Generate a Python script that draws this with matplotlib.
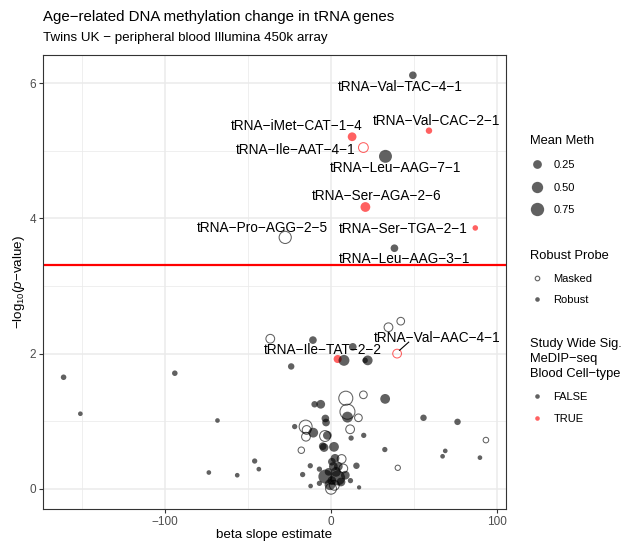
import matplotlib
matplotlib.use("Agg")
import matplotlib.pyplot as plt
from matplotlib.lines import Line2D
import numpy as np

plt.rcParams['font.family'] = ['Liberation Sans', 'DejaVu Sans']
plt.rcParams['mathtext.fontset'] = 'custom'
plt.rcParams['mathtext.rm'] = 'Liberation Sans'
plt.rcParams['mathtext.it'] = 'Liberation Sans:italic'

# beta slope, -log10 p, mean methylation, masked probe, study wide sig
slope = [49.3, 59.0, 12.7, 19.5, 32.8, 20.7, -27.6, 86.9, 38.2, 4.0, 39.8,
         -36.6, 34.6, 42.0, -10.9, 13.1, 7.8, 22.1, 20.5, -24.0, -161.1,
         -94.1, -151.0, -68.4, -73.6, -56.5, -46.0, -43.5, 55.7, 76.2, 93.3,
         68.8, 67.2, 89.7, 40.2, 32.4, 32.6, 19.5, 8.9, 9.9, 9.9,
         16.5, 11.5, 12.1, 19.7, -9.9, -6.2, -3.4, -3.0, -15.3, -14.7,
         -15.1, -10.7, -21.9, -3.6, -2.2, -5.0, -4.2, 1.8, -17.9, -12.5,
         -17.1, -7.0, -12.3, -7.0, 6.4, 15.3, 8.6, 11.7, 16.9, -3.4,
         4.0, -0.6, 0.0, 1.4, 4.4, 7.4, 2.4, 0.5, 3.0, 0.5,
         2.0, 6.0, -1.5]
logp = [6.12, 5.30, 5.21, 5.05, 4.92, 4.17, 3.72, 3.86, 3.56, 1.92, 2.00,
        2.22, 2.39, 2.48, 2.20, 2.10, 1.90, 1.90, 1.90, 1.81, 1.65,
        1.71, 1.11, 1.01, 0.24, 0.20, 0.41, 0.29, 1.05, 0.99, 0.72,
        0.56, 0.48, 0.46, 0.31, 0.58, 1.33, 1.39, 1.34, 1.14, 1.06,
        1.05, 0.88, 0.75, 0.79, 1.25, 1.25, 1.04, 0.98, 0.92, 0.87,
        0.77, 0.83, 0.92, 0.78, 0.79, 0.63, 0.61, 0.62, 0.57, 0.34,
        0.21, 0.29, 0.04, 0.08, 0.44, 0.34, 0.20, 0.12, 0.02, 0.18,
        0.16, 0.06, 0.00, 0.33, 0.33, 0.30, 0.45, 0.40, 0.25, 0.12,
        0.05, 0.10, 0.25]
meth = [0.17, 0.10, 0.25, 0.34, 0.70, 0.34, 0.60, 0.06, 0.17, 0.20, 0.25,
        0.25, 0.25, 0.17, 0.17, 0.17, 0.45, 0.34, 0.06, 0.10, 0.06,
        0.06, 0.03, 0.03, 0.03, 0.03, 0.05, 0.03, 0.10, 0.10, 0.06,
        0.03, 0.03, 0.03, 0.05, 0.05, 0.34, 0.17, 0.85, 1.00, 0.45,
        0.17, 0.25, 0.05, 0.05, 0.10, 0.25, 0.17, 0.17, 0.70, 0.25,
        0.25, 0.34, 0.05, 0.45, 0.25, 0.17, 0.25, 0.34, 0.10, 0.05,
        0.05, 0.05, 0.03, 0.05, 0.25, 0.10, 0.25, 0.05, 0.02, 0.85,
        1.00, 0.45, 0.45, 0.25, 0.25, 0.25, 0.25, 0.17, 0.34, 0.25,
        0.34, 0.25, 0.17]
masked = [0, 0, 0, 1, 0, 0, 1, 0, 0, 0, 1,
          1, 1, 1, 0, 0, 0, 0, 0, 0, 0,
          0, 0, 0, 0, 0, 0, 0, 0, 0, 1,
          0, 0, 0, 1, 0, 0, 1, 1, 1, 0,
          1, 1, 0, 0, 0, 0, 0, 0, 1, 1,
          1, 0, 0, 1, 0, 0, 0, 0, 1, 0,
          0, 0, 0, 0, 1, 0, 0, 0, 0, 0,
          0, 0, 1, 0, 0, 1, 0, 0, 0, 0,
          1, 0, 0]
sig = [0, 1, 1, 1, 0, 1, 0, 1, 0, 1, 1,
       0, 0, 0, 0, 0, 0, 0, 0, 0, 0,
       0, 0, 0, 0, 0, 0, 0, 0, 0, 0,
       0, 0, 0, 0, 0, 0, 0, 0, 0, 0,
       0, 0, 0, 0, 0, 0, 0, 0, 0, 0,
       0, 0, 0, 0, 0, 0, 0, 0, 0, 0,
       0, 0, 0, 0, 0, 0, 0, 0, 0, 0,
       0, 0, 0, 0, 0, 0, 0, 0, 0, 0,
       0, 0, 0]

# labelled genes (first 11 points), label position
gene_names = ["tRNA−Val−TAC−4−1", "tRNA−Val−CAC−2−1", "tRNA−iMet−CAT−1−4",
              "tRNA−Ile−AAT−4−1", "tRNA−Leu−AAG−7−1", "tRNA−Ser−AGA−2−6",
              "tRNA−Pro−AGG−2−5", "tRNA−Ser−TGA−2−1", "tRNA−Leu−AAG−3−1",
              "tRNA−Ile−TAT−2−2", "tRNA−Val−AAC−4−1"]
label_x = [41.6, 63.8, -20.7, -21.1, 38.8, 27.2, -41.6, 43.3, 44.0, -5.0, 63.8]
label_y = [5.95, 5.45, 5.37, 5.02, 4.75, 4.33, 3.86, 3.84, 3.40, 2.05, 2.23]

threshold = 3.31

grey = (0, 0, 0, 0.62)
red = (1, 0, 0, 0.62)


def size_pt(m):
    d_px = 2.5 * (1 + 5 * np.sqrt(m))
    return d_px * 0.72


fig = plt.figure(figsize=(6.27, 5.43), dpi=100)
ax = fig.add_axes([43 / 627, 34 / 543, 463 / 627, 454 / 543])

ax.axhline(threshold, color="red", lw=1.6, zorder=2)

for i in range(len(slope)):
    col = red if sig[i] else grey
    s = size_pt(meth[i]) ** 2
    if masked[i]:
        ax.scatter(slope[i], logp[i], s=s, facecolor="none", edgecolor=col,
                   linewidth=0.75, zorder=3)
    else:
        ax.scatter(slope[i], logp[i], s=s, color=col, edgecolor="none", zorder=3)

for i, name in enumerate(gene_names):
    ax.text(label_x[i], label_y[i], name, fontsize=9.8, ha="center", va="center",
            zorder=4)
# segment for the one repelled label
ax.plot([slope[10] + 1.5, slope[10] + 7], [logp[10] + 0.05, logp[10] + 0.17],
        color="black", lw=0.8, zorder=4)

ax.set_xlim(-173.5, 105.4)
ax.set_ylim(-0.3, 6.42)
ax.set_xticks([-100, 0, 100])
ax.set_xticks([-150, -50, 50], minor=True)
ax.set_yticks([0, 2, 4, 6])
ax.set_yticks([1, 3, 5], minor=True)
ax.grid(which="major", color="#EBEBEB", lw=1.1)
ax.grid(which="minor", color="#EBEBEB", lw=0.55)
ax.set_axisbelow(True)
ax.tick_params(which="major", length=3, width=0.8, color="#333333",
               labelsize=8.5, labelcolor="#4D4D4D", pad=2)
ax.tick_params(which="minor", length=0)
for sp in ax.spines.values():
    sp.set_color("#333333")
    sp.set_linewidth(0.8)

ax.set_xlabel("beta slope estimate", fontsize=9.6, labelpad=1)
ax.set_ylabel("−log$_{10}$($\\mathit{p}$−value)", fontsize=9.6, labelpad=2)

fig.text(43 / 627, 1 - 17 / 543, "Age−related DNA methylation change in tRNA genes",
         fontsize=10.8, va="center", ha="left")
fig.text(43 / 627, 1 - 38 / 543, "Twins UK − peripheral blood Illumina 450k array",
         fontsize=9.6, va="center", ha="left")

# legends
meth_breaks = [0.25, 0.50, 0.75]
h1 = [Line2D([], [], ls="none", marker="o", ms=size_pt(m), mfc=grey, mec="none")
      for m in meth_breaks]
leg1 = fig.legend(h1, ["%.2f" % m for m in meth_breaks], title="Mean Meth",
                  loc="upper left", bbox_to_anchor=(520 / 627, 1 - 125 / 543),
                  frameon=False, fontsize=8, title_fontsize=9.3, alignment="left",
                  handletextpad=0.9, labelspacing=1.15, handlelength=1.2)

h2 = [Line2D([], [], ls="none", marker="o", ms=3.3, mfc="none", mec=grey, mew=0.8),
      Line2D([], [], ls="none", marker="o", ms=3.3, mfc=grey, mec="none")]
leg2 = fig.legend(h2, ["Masked", "Robust"], title="Robust Probe",
                  loc="upper left", bbox_to_anchor=(520 / 627, 1 - 240 / 543),
                  frameon=False, fontsize=8, title_fontsize=9.3, alignment="left",
                  handletextpad=0.9, labelspacing=1.05, handlelength=1.2)

h3 = [Line2D([], [], ls="none", marker="o", ms=3.3, mfc=grey, mec="none"),
      Line2D([], [], ls="none", marker="o", ms=3.3, mfc=red, mec="none")]
leg3 = fig.legend(h3, ["FALSE", "TRUE"],
                  title="Study Wide Sig.\nMeDIP−seq\nBlood Cell−type",
                  loc="upper left", bbox_to_anchor=(520 / 627, 1 - 328 / 543),
                  frameon=False, fontsize=8, title_fontsize=9.3, alignment="left",
                  handletextpad=0.9, labelspacing=1.05, handlelength=1.2)
leg3.get_title().set_linespacing(1.35)

fig.savefig("out.png", dpi=100)
